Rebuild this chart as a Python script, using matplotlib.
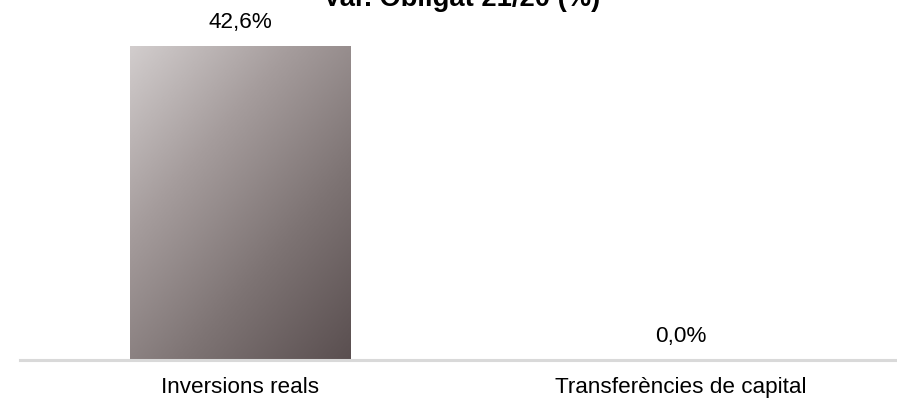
import numpy as np
import matplotlib
matplotlib.use('Agg')
import matplotlib.pyplot as plt
from matplotlib.colors import LinearSegmentedColormap

plt.rcParams['font.family'] = ['Liberation Sans', 'DejaVu Sans']

title = 'Var. Obligat 21/20 (%)'
categories = ['Inversions reals', 'Transferències de capital']
values = [42.6, 0.0]
labels = ['42,6%', '0,0%']

fig = plt.figure(figsize=(8.97, 3.99), dpi=100)
ax = fig.add_axes([19.5 / 897, 39 / 399, 882 / 897, 360 / 399])

x = np.arange(len(categories))
bars = ax.bar(x, values, width=0.5, color='none', edgecolor='none')

# diagonal gradient (light top-left -> dark bottom-right)
cmap = LinearSegmentedColormap.from_list('g', ['#d2cdcd', '#a59c9c', '#7d7373', '#5a4f50'])
gy, gx = np.mgrid[0:1:200j, 0:1:200j]
grad = (gx * 0.45 + gy * 0.55)
for b in bars:
    if b.get_height() <= 0:
        continue
    im = ax.imshow(grad, cmap=cmap, aspect='auto', origin='upper',
                   extent=[b.get_x(), b.get_x() + b.get_width(), 0, b.get_height()],
                   zorder=2)
    im.set_clip_path(b)

for b, lab in zip(bars, labels):
    ax.annotate(lab, (b.get_x() + b.get_width() / 2, b.get_height()),
                xytext=(0, 13), textcoords='offset points',
                ha='center', va='baseline', fontsize=16.2, color='#000000')

ax.set_xlim(-0.5, 1.5)
ax.set_ylim(0, 48.8)
ax.set_xticks(x)
ax.set_xticklabels(categories, fontsize=16.2, va='baseline')
ax.tick_params(axis='x', length=0, pad=23.5)
ax.set_yticks([])
for s in ['top', 'left', 'right']:
    ax.spines[s].set_visible(False)
ax.spines['bottom'].set_color('#d9d9d9')
ax.spines['bottom'].set_linewidth(2.2)

fig.text(462 / 897, 1 - 6 / 399, title, ha='center', va='baseline',
         fontsize=19.7, fontweight='bold')

fig.savefig('out.png', dpi=100)
